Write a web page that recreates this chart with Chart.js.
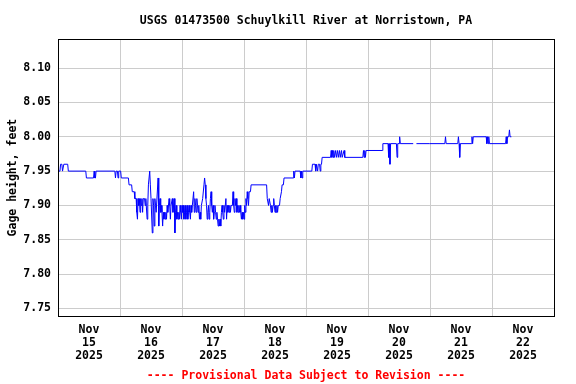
<!DOCTYPE html>
<html>
<head>
<meta charset="utf-8">
<script src="https://cdn.jsdelivr.net/npm/chart.js@4.4.1/dist/chart.umd.min.js"></script>
<style>
  body { margin: 0; background: #fff; }
  #wrap { width: 576px; height: 384px; }
</style>
</head>
<body>
<div id="wrap"><canvas id="chart"></canvas></div>
<script>
// gage height readings, [hour of day, feet], one array per day
const nov15 = [[0,7.95],[0.75,7.95],[1,7.96],[1.5,7.96],[1.75,7.95],[2.25,7.96],[3.75,7.96],[4,7.95],[10.75,7.95],[11,7.94],[13.75,7.94],[14,7.95],[14.25,7.94],[14.5,7.94],[14.75,7.95],[22,7.95],[22.25,7.94],[22.5,7.95],[23,7.95],[23.25,7.94],[23.5,7.95]];
const nov16 = [[0.25,7.95],[0.5,7.94],[3.25,7.94],[3.5,7.93],[4.5,7.93],[4.75,7.92],[5.5,7.92],[5.75,7.91],[6.25,7.91],[6.5,7.89],[6.75,7.88],[7,7.91],[7.25,7.90],[7.5,7.91],[7.75,7.89],[8,7.91],[8.25,7.90],[8.5,7.91],[8.75,7.89],[9,7.91],[9.5,7.91],[9.75,7.90],[10,7.91],[10.5,7.88],[10.75,7.90],[11,7.93],[11.5,7.95],[11.75,7.93],[12,7.91],[12.5,7.86],[12.75,7.91],[13,7.90],[13.25,7.87],[13.5,7.91],[13.75,7.90],[14,7.89],[14.75,7.94],[15,7.87],[15.25,7.90],[15.5,7.91],[15.75,7.89],[16,7.90],[16.25,7.89],[16.5,7.87],[16.75,7.89],[17,7.88],[17.25,7.89],[17.5,7.88],[17.75,7.89],[18,7.88],[18.25,7.90],[18.5,7.89],[19,7.91],[19.25,7.90],[19.5,7.88],[19.75,7.90],[20.25,7.91],[20.5,7.89],[21,7.91],[21.25,7.86],[21.5,7.89],[21.75,7.90],[22,7.88],[22.25,7.89],[22.5,7.88],[22.75,7.89],[23,7.88],[23.25,7.90],[23.5,7.89],[23.75,7.88]];
const nov17 = [[0,7.90],[0.25,7.89],[0.5,7.90],[0.75,7.88],[1,7.89],[1.25,7.90],[1.5,7.88],[1.75,7.89],[2,7.90],[2.25,7.88],[2.5,7.89],[2.75,7.90],[3,7.89],[3.25,7.88],[3.5,7.90],[3.75,7.89],[4,7.90],[4.5,7.92],[4.75,7.89],[5,7.91],[5.25,7.90],[5.5,7.89],[5.75,7.91],[6,7.90],[6.25,7.89],[6.5,7.90],[6.75,7.88],[7,7.89],[7.25,7.88],[7.5,7.90],[8,7.91],[8.5,7.93],[8.75,7.94],[9,7.93],[9.25,7.91],[9.5,7.90],[9.75,7.88],[10,7.89],[10.25,7.90],[10.5,7.88],[10.75,7.89],[11,7.91],[11.25,7.92],[11.5,7.90],[11.75,7.89],[12,7.90],[12.25,7.88],[12.5,7.89],[12.75,7.90],[13,7.89],[13.25,7.88],[13.5,7.89],[13.75,7.88],[14,7.87],[14.25,7.88],[14.5,7.87],[14.75,7.88],[15,7.87],[15.25,7.89],[15.5,7.90],[15.75,7.89],[16,7.88],[16.25,7.90],[16.5,7.89],[17,7.91],[17.25,7.88],[17.5,7.90],[17.75,7.89],[18,7.90],[18.25,7.89],[18.5,7.90],[18.75,7.89],[19,7.90],[19.5,7.90],[19.75,7.92],[20,7.90],[20.25,7.89],[20.5,7.91],[20.75,7.90],[21,7.91],[21.25,7.89],[21.5,7.90],[21.75,7.89],[22,7.90],[22.25,7.89],[22.5,7.90],[22.75,7.89],[23,7.88],[23.25,7.89],[23.5,7.88],[23.75,7.89]];
const nov18 = [[0,7.88],[0.25,7.90],[0.5,7.89],[0.75,7.91],[1,7.90],[1.25,7.92],[1.5,7.91],[1.75,7.90],[2,7.92],[2.5,7.92],[2.75,7.93],[8.75,7.93],[9,7.91],[9.25,7.91],[9.5,7.90],[9.75,7.91],[10,7.91],[10.25,7.90],[10.5,7.89],[10.75,7.90],[11,7.89],[11.25,7.90],[11.5,7.91],[11.75,7.90],[12,7.89],[12.25,7.90],[12.5,7.89],[12.75,7.90],[13,7.89],[13.25,7.90],[13.75,7.90],[14,7.91],[14.25,7.91],[14.5,7.92],[14.75,7.93],[15.25,7.93],[15.5,7.94],[19,7.94],[19.25,7.95],[19.5,7.94],[19.75,7.95],[21.75,7.95],[22,7.94],[22.25,7.95],[22.5,7.94],[22.75,7.95]];
const nov19 = [[0,7.95],[2.25,7.95],[2.5,7.96],[3.5,7.96],[3.75,7.95],[4,7.96],[4.25,7.96],[4.5,7.95],[4.75,7.96],[5.25,7.96],[5.5,7.95],[5.75,7.96],[6,7.96],[6.25,7.97],[9.5,7.97],[9.75,7.98],[10,7.97],[10.25,7.98],[10.5,7.97],[10.75,7.98],[11,7.97],[11.5,7.98],[11.75,7.97],[12.25,7.98],[12.5,7.97],[13,7.98],[13.25,7.97],[13.75,7.98],[14,7.97],[14.75,7.98],[15,7.97],[22,7.97],[22.25,7.98],[22.5,7.97],[22.75,7.98],[23,7.97],[23.25,7.98]];
const nov20 = [[0,7.98],[5.5,7.98],[5.75,7.99],[7.75,7.99],[8,7.97],[8.25,7.99],[8.5,7.96],[8.75,7.99],[11,7.99],[11.25,7.97],[11.5,7.99],[12,7.99],[12.25,8.00],[12.5,7.99],[17.5,7.99],[18,null],[18.75,7.99],[23.75,7.99]];
const nov21 = [[0,7.99],[5.75,7.99],[6,8.00],[6.25,7.99],[10.75,7.99],[11,8.00],[11.25,7.99],[11.5,7.97],[11.75,7.99],[16,7.99],[16.25,8.00],[16.5,7.99],[16.75,8.00],[21.75,8.00],[22,7.99],[22.25,8.00],[22.5,7.99],[22.75,8.00],[23,7.99]];
const nov22 = [[0,7.99],[5.25,7.99],[5.5,8.00],[5.75,7.99],[6,8.00],[6.5,8.00],[6.75,8.01],[7,8.00],[7.5,8.00]];

const dayLabels = [['Nov','15','2025'],['Nov','16','2025'],['Nov','17','2025'],['Nov','18','2025'],['Nov','19','2025'],['Nov','20','2025'],['Nov','21','2025'],['Nov','22','2025']];
const yTicks = [7.75, 7.80, 7.85, 7.90, 7.95, 8.00, 8.05, 8.10];

const days = [nov15, nov16, nov17, nov18, nov19, nov20, nov21, nov22];
const punkte = days.flatMap((d, i) => d.map(([h, v]) => ({ x: i * 24 + h, y: v })));

const schrift = { family: "'DejaVu Sans Mono', monospace", size: 11.5, weight: 'bold', lineHeight: 1.2 };

const rahmen = {
  id: 'rahmen',
  afterDatasetsDraw(chart) {
    const a = chart.chartArea;
    const ctx = chart.ctx;
    ctx.save();
    ctx.strokeStyle = '#000';
    ctx.lineWidth = 1;
    ctx.strokeRect(Math.round(a.left) + 0.5, Math.round(a.top) + 0.5, Math.round(a.right - a.left), Math.round(a.bottom - a.top));
    ctx.restore();
  }
};

new Chart(document.getElementById('chart'), {
  type: 'line',
  data: {
    datasets: [{
      data: punkte,
      borderColor: '#0000ff',
      borderWidth: 1,
      pointRadius: 0,
      tension: 0,
      fill: false
    }]
  },
  options: {
    responsive: true,
    maintainAspectRatio: false,
    animation: false,
    layout: { padding: { left: 0, right: 22, top: 0, bottom: 0 } },
    plugins: {
      legend: { display: false },
      tooltip: { enabled: false },
      title: {
        display: true,
        text: 'USGS 01473500 Schuylkill River at Norristown, PA',
        color: '#000',
        font: schrift,
        fullSize: false,
        padding: { top: 14.5, bottom: 10.7 }
      },
      subtitle: {
        display: true,
        position: 'bottom',
        text: '---- Provisional Data Subject to Revision ----',
        color: '#ff0000',
        font: schrift,
        fullSize: false,
        padding: { top: 7, bottom: 1 }
      }
    },
    scales: {
      x: {
        type: 'linear',
        min: 0,
        max: 192,
        afterBuildTicks: s => { s.ticks = Array.from({ length: 17 }, (_, i) => ({ value: i * 12 })); },
        afterFit: s => { s.height = 46; },
        grid: {
          drawTicks: false,
          color: c => (c.tick && c.tick.value % 24 === 0) ? '#cccccc' : 'rgba(0,0,0,0)'
        },
        border: { display: false },
        ticks: {
          autoSkip: false,
          maxRotation: 0,
          padding: 7,
          color: '#000',
          font: { ...schrift, lineHeight: 1.13 },
          callback: v => (v % 24 === 12) ? dayLabels[(v - 12) / 24] : ''
        }
      },
      y: {
        min: 7.7388,
        max: 8.1423,
        afterBuildTicks: s => { s.ticks = yTicks.map(v => ({ value: v })); },
        afterFit: s => { s.width = 58; },
        grid: { drawTicks: false, color: '#cccccc' },
        border: { display: false },
        ticks: {
          padding: 7,
          color: '#000',
          font: schrift,
          callback: v => v.toFixed(2)
        },
        title: {
          display: true,
          text: 'Gage height, feet',
          color: '#000',
          font: schrift,
          padding: { top: 6, bottom: 0 }
        }
      }
    }
  },
  plugins: [rahmen]
});
</script>
</body>
</html>
